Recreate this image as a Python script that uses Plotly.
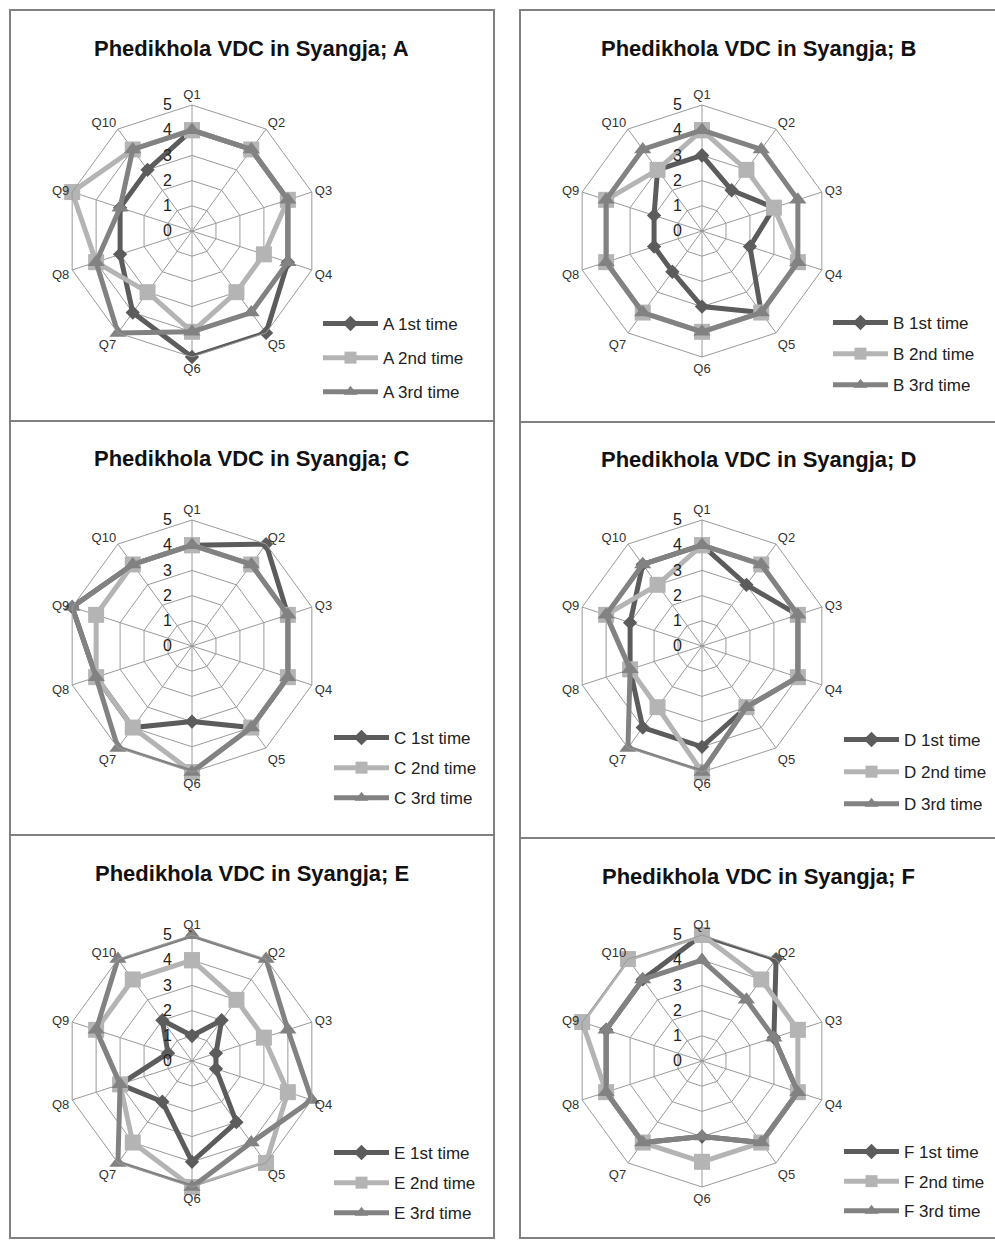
import plotly.graph_objects as go

W, H = 995, 1241

questions = ["Q1", "Q2", "Q3", "Q4", "Q5", "Q6", "Q7", "Q8", "Q9", "Q10"]
series_names = ["1st time", "2nd time", "3rd time"]

A_1st = [4, 4, 4, 4, 5, 5, 4, 3, 3, 3]
A_2nd = [4, 4, 4, 3, 3, 4, 3, 4, 5, 4]
A_3rd = [4, 4, 4, 4, 4, 4, 5, 4, 3, 4]

B_1st = [3, 2, 3, 2, 4, 3, 2, 2, 2, 3]
B_2nd = [4, 3, 3, 4, 4, 4, 4, 4, 4, 3]
B_3rd = [4, 4, 4, 4, 4, 4, 4, 4, 4, 4]

C_1st = [4, 5, 4, 4, 4, 3, 4, 4, 5, 4]
C_2nd = [4, 4, 4, 4, 4, 5, 4, 4, 4, 4]
C_3rd = [4, 4, 4, 4, 4, 5, 5, 4, 5, 4]

D_1st = [4, 3, 4, 4, 3, 4, 4, 3, 3, 4]
D_2nd = [4, 4, 4, 4, 3, 5, 3, 3, 4, 3]
D_3rd = [4, 4, 4, 4, 3, 5, 5, 3, 4, 4]

E_1st = [1, 2, 1, 1, 3, 4, 2, 3, 1, 2]
E_2nd = [4, 3, 3, 4, 5, 5, 4, 3, 4, 4]
E_3rd = [5, 5, 4, 5, 4, 5, 5, 3, 4, 5]

F_1st = [5, 5, 3, 4, 4, 3, 4, 4, 4, 4]
F_2nd = [5, 4, 4, 4, 4, 4, 4, 4, 5, 5]
F_3rd = [4, 3, 3, 4, 4, 3, 4, 4, 4, 4]

panels = [
    ("A", [A_1st, A_2nd, A_3rd]),
    ("B", [B_1st, B_2nd, B_3rd]),
    ("C", [C_1st, C_2nd, C_3rd]),
    ("D", [D_1st, D_2nd, D_3rd]),
    ("E", [E_1st, E_2nd, E_3rd]),
    ("F", [F_1st, F_2nd, F_3rd]),
]

# layout geometry (pixels)
boxes = [(10, 10, 494, 421), (520, 10, 996, 422),
         (10, 421, 494, 835), (520, 422, 996, 838),
         (10, 835, 494, 1238), (520, 838, 996, 1238)]
centers = [(192, 231), (702, 231), (192, 646), (702, 646), (192, 1061), (702, 1061)]
R = 126
legend_pos = [(318, 306), (828, 305), (329, 720), (839, 722), (329, 1135), (839, 1134)]
legend_gaps = [9, 6, 5, 7, 5, 4.5]

colors = ["#5c5c5c", "#b4b4b4", "#828282"]
symbols = ["diamond", "square", "triangle-up"]
msizes = [11, 16, 15]

FONT = "Liberation Sans, Arial, sans-serif"

def px(x):
    return x / W

def py(y):
    return 1 - y / H

fig = go.Figure()
layout = dict(width=W, height=H, margin=dict(l=0, r=0, t=0, b=0),
              paper_bgcolor="white", plot_bgcolor="white",
              shapes=[], annotations=[])

for i, (letter, series) in enumerate(panels):
    pname = "polar" if i == 0 else f"polar{i+1}"
    lname = "legend" if i == 0 else f"legend{i+1}"
    cx, cy = centers[i]
    for j, vals in enumerate(series):
        fig.add_trace(go.Scatterpolar(
            r=vals + [vals[0]], theta=questions + [questions[0]],
            mode="lines+markers", name=f"{letter} {series_names[j]}",
            line=dict(color=colors[j], width=5),
            marker=dict(symbol=symbols[j], size=msizes[j], color=colors[j]),
            subplot=pname, legend=lname, legendgroup=f"{letter}{j}",
        ))
    layout[pname] = dict(
        domain=dict(x=[px(cx - R), px(cx + R)], y=[py(cy + R), py(cy - R)]),
        gridshape="linear", bgcolor="white",
        angularaxis=dict(direction="clockwise", rotation=90, categoryorder="array",
                         categoryarray=questions,
                         showline=True, linecolor="#9a9a9a", linewidth=1,
                         gridcolor="#9a9a9a", gridwidth=1, ticks="",
                         tickfont=dict(family=FONT, size=13, color="#333333")),
        radialaxis=dict(range=[0, 5], dtick=1, angle=90, tickangle=90,
                        side="counterclockwise", showline=False,
                        gridcolor="#9a9a9a", gridwidth=1,
                        ticks="outside", ticklen=14, tickcolor="rgba(0,0,0,0)",
                        tickfont=dict(family=FONT, size=16, color="#222222")),
    )
    lx, ly = legend_pos[i]
    layout[lname] = dict(x=px(lx), y=py(ly), xanchor="left", yanchor="top",
                         bgcolor="rgba(0,0,0,0)", itemwidth=55, itemsizing="constant",
                         tracegroupgap=legend_gaps[i],
                         font=dict(family=FONT, size=17, color="#222222"))
    x0, y0, x1, y1 = boxes[i]
    layout["shapes"].append(dict(type="rect", xref="paper", yref="paper",
                                 x0=px(x0), x1=px(x1), y0=py(y1), y1=py(y0),
                                 line=dict(color="#808080", width=2)))
    layout["annotations"].append(dict(
        text=f"<b>Phedikhola VDC in Syangja; {letter}</b>", showarrow=False,
        xref="paper", yref="paper", x=px((x0 + x1) / 2), y=py(y0 + 38),
        xanchor="center", yanchor="middle",
        font=dict(family="Liberation Sans Narrow, Arial Narrow, Liberation Sans, sans-serif",
                  size=22, color="#111111")))

fig.update_layout(**layout)
fig.write_html("out.html", config={"displayModeBar": False},
               post_script="document.body.style.margin='0';")
